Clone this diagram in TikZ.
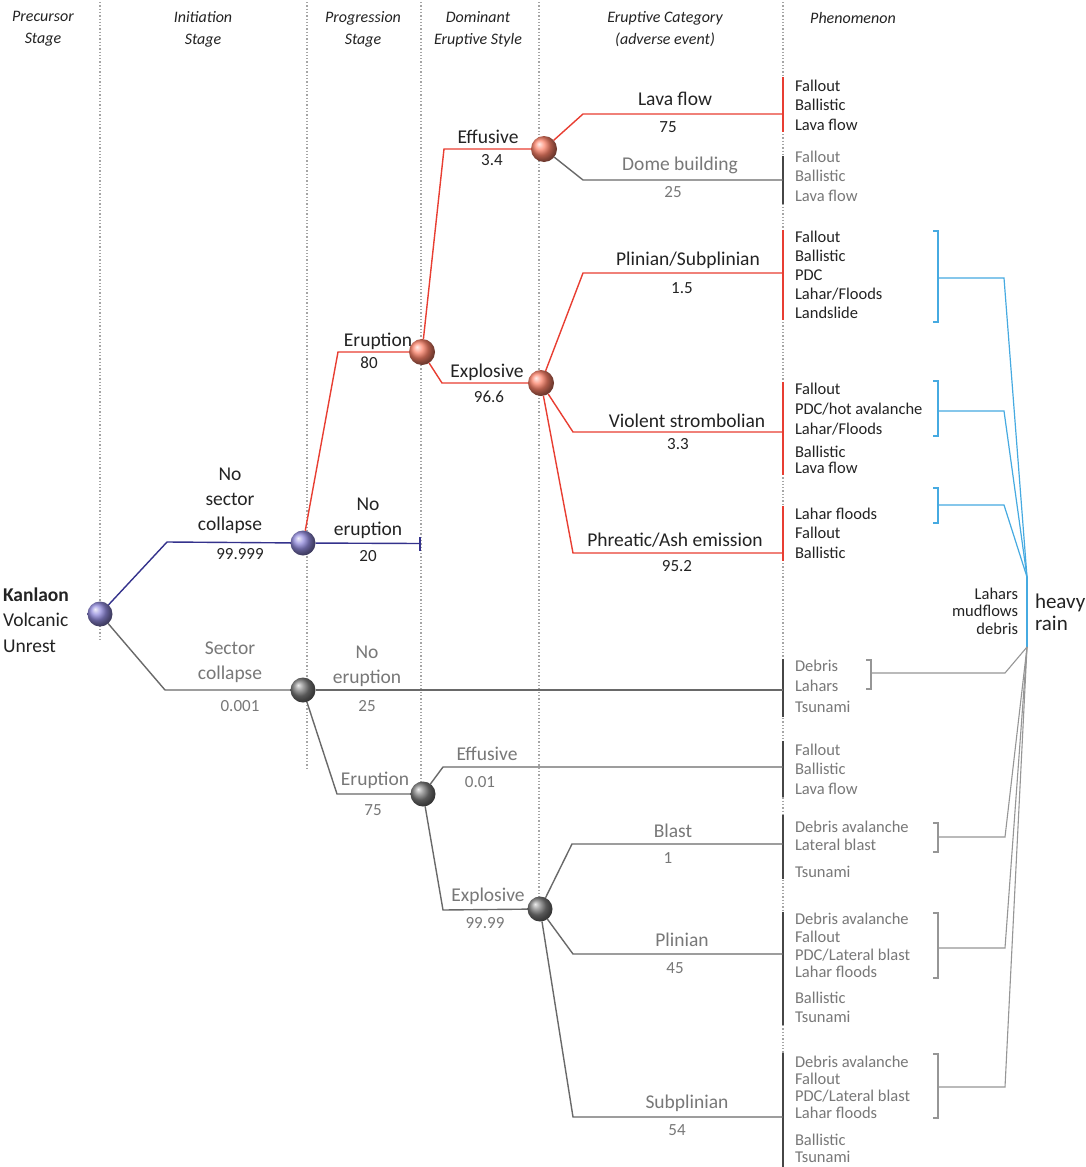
\documentclass[tikz,border=0pt]{standalone}
\usepackage{fontspec}
\setmainfont{Carlito}
\usetikzlibrary{calc}
\definecolor{redline}{RGB}{232,62,50}
\definecolor{purpline}{RGB}{52,50,140}
\definecolor{grayline}{RGB}{105,105,105}
\definecolor{darkbar}{RGB}{70,70,70}
\definecolor{blueline}{RGB}{70,170,225}
\definecolor{txtdark}{RGB}{35,35,35}
\definecolor{txtgray}{RGB}{120,120,120}
\definecolor{gridgray}{RGB}{165,165,165}
\definecolor{brgray}{RGB}{150,150,150}
\definecolor{ballred}{RGB}{252,130,105}
\definecolor{ballpurp}{RGB}{145,138,220}
\definecolor{ballgray}{RGB}{125,125,125}
\tikzset{
  every node/.style={inner sep=0pt, outer sep=0pt},
  lab/.style={font=\fontsize{19.5}{25}\selectfont, text=txtdark, align=center},
  glab/.style={lab, text=txtgray},
  num/.style={font=\fontsize{17}{20}\selectfont, text=txtdark},
  gnum/.style={num, text=txtgray},
  ph/.style={font=\fontsize{16.5}{19.5}\selectfont, anchor=west, align=left, text=txtdark},
  gph/.style={ph, text=txtgray},
  hdr/.style={font=\fontsize{16}{22}\selectfont\itshape, align=center, text=txtdark},
  gridline/.style={draw=gridgray, dotted, line width=1.3pt},
  rline/.style={draw=redline, line width=1.4pt},
  pline/.style={draw=purpline, line width=1.4pt},
  gline/.style={draw=grayline, line width=1.4pt},
  bline/.style={draw=blueline, line width=1.2pt},
  brline/.style={draw=brgray, line width=1.1pt},
  ballR/.style={circle, minimum size=26pt, shading=ball, ball color=ballred},
  ballP/.style={circle, minimum size=25pt, shading=ball, ball color=ballpurp},
  ballG/.style={circle, minimum size=25pt, shading=ball, ball color=ballgray},
  rbar/.style={rectangle, minimum width=2.2pt, fill=redline},
  gbar/.style={rectangle, minimum width=2.2pt, fill=darkbar},
  pbar/.style={rectangle, minimum width=2.2pt, fill=purpline},
}
\begin{document}
\begin{tikzpicture}[x=1pt,y=-1pt]
\useasboundingbox[fill=white] (0,0) rectangle (1086,1167);

% dotted stage separators
\draw[gridline] (100,2) -- (100,642);
\draw[gridline] (307,2) -- (307,770);
\draw[gridline] (421,2) -- (421,785);
\draw[gridline] (539,2) -- (539,900);
\draw[gridline] (783,2) -- (783,1167);

% headers
\node[hdr] (h1) at (43,29) {Precursor\\Stage};
\node[hdr] (h2) at (203,29) {Initiation\\Stage};
\node[hdr] (h3) at (363,29) {Progression\\Stage};
\node[hdr] (h4) at (478,29) {Dominant\\Eruptive Style};
\node[hdr] (h5) at (665,29) {Eruptive Category\\(adverse event)};
\node[hdr] (h6) at (853,18) {Phenomenon};

% phenomenon bars
\node[rbar, minimum height=55pt] (bar1) at (783,104.5) {};
\node[gbar, minimum height=48pt] (bar2) at (783,180) {};
\node[rbar, minimum height=90pt] (bar3) at (783,275) {};
\node[rbar, minimum height=93pt] (bar4) at (783,428.5) {};
\node[rbar, minimum height=55pt] (bar5) at (783,533.5) {};
\node[gbar, minimum height=58pt] (bar6) at (783,688) {};
\node[gbar, minimum height=56pt] (bar7) at (783,769) {};
\node[gbar, minimum height=64pt] (bar8) at (783,847) {};
\node[gbar, minimum height=113pt] (bar9) at (783,968.5) {};
\node[gbar, minimum height=116pt] (bar10) at (783,1111) {};
\node[pbar, minimum height=14pt] (tick) at (420,543.5) {};

% balls
\node[ballP] (kan) at (100,614) {};
\node[ballP] (n1) at (303,543) {};
\node[ballG] (n2) at (303,690) {};
\node[ballR] (er) at (422,352) {};
\node[ballR] (ef) at (544,149) {};
\node[ballR] (ex) at (541,383) {};
\node[ballG] (ger) at (423,794) {};
\node[ballG] (gex) at (540,909) {};

% branches
\draw[pline] (kan) -- (167,542) -- (n1);
\draw[gline] (kan) -- (165,690) -- (n2);
\draw[pline] (n1) -- (tick);
\draw[rline] (n1) -- (338,352) -- (er);
\draw[rline] (er) -- (444,149) -- (ef);
\draw[rline] (er) -- (442,383) -- (ex);
\draw[rline] (ef) -- (583,114) coordinate (c1) -- (c1 -| bar1);
\draw[gline] (ef) -- (583,180) coordinate (c2) -- (c2 -| bar2);
\draw[rline] (ex) -- (583,273) coordinate (c3) -- (c3 -| bar3);
\draw[rline] (ex) -- (573,432) coordinate (c4) -- (c4 -| bar4);
\draw[rline] (ex) -- (573,553) coordinate (c5) -- (c5 -| bar5);
\draw[gline] (n2) -- (n2 -| bar6);
\draw[gline] (n2) -- (337,794) -- (ger);
\draw[gline] (ger) -- (443,767) coordinate (c7) -- (c7 -| bar7);
\draw[gline] (ger) -- (443,910) -- (gex);
\draw[gline] (gex) -- (572,844) coordinate (c8) -- (c8 -| bar8);
\draw[gline] (gex) -- (573,954) coordinate (c9) -- (c9 -| bar9);
\draw[gline] (gex) -- (573,1117) coordinate (c10) -- (c10 -| bar10);

% branch labels
\node[lab, anchor=west, align=left, font=\fontsize{19.5}{25.5}\selectfont] (kanl) at (3,620) {\textbf{Kanlaon}\\Volcanic\\Unrest};
\node[lab] (nsc) at (230,501) {No\\sector\\collapse};
\node[num] (nscp) at (240,554) {99.999};
\node[glab] (sc) at (230,662) {Sector\\collapse};
\node[gnum] (scp) at (240,706) {0.001};
\node[lab] (ne1) at (368,518) {No\\eruption};
\node[num] (ne1p) at (368,556) {20};
\node[glab] (ne2) at (367,666.5) {No\\eruption};
\node[gnum] (ne2p) at (367,706) {25};
\node[lab] (erl) at (378,341) {Eruption};
\node[num] (erp) at (369,363) {80};
\node[lab] (efl) at (488,137) {Effusive};
\node[num] (efp) at (492,160) {3.4};
\node[lab] (exl) at (487,372) {Explosive};
\node[num] (exp) at (489,397) {96.6};
\node[lab] (lfl) at (675,99) {Lava flow};
\node[num] (lfp) at (668,127) {75};
\node[glab] (dbl) at (680,165) {Dome building};
\node[gnum] (dbp) at (673,192) {25};
\node[lab] (psl) at (688,260) {Plinian/Subplinian};
\node[num] (psp) at (682,288) {1.5};
\node[lab] (vsl) at (687,421) {Violent strombolian};
\node[num] (vsp) at (678,444) {3.3};
\node[lab] (pal) at (675,540) {Phreatic/Ash emission};
\node[num] (pap) at (677,566) {95.2};
\node[glab] (gerl) at (375,780) {Eruption};
\node[gnum] (gerp) at (373,810) {75};
\node[glab] (gefl) at (487,754) {Effusive};
\node[gnum] (gefp) at (480,782) {0.01};
\node[glab] (gexl) at (488,896) {Explosive};
\node[gnum] (gexp) at (485,923) {99.99};
\node[glab] (bll) at (673,831) {Blast};
\node[gnum] (blp) at (668,858) {1};
\node[glab] (pll) at (682,940) {Plinian};
\node[gnum] (plp) at (675,968) {45};
\node[glab] (spl) at (687,1103) {Subplinian};
\node[gnum] (spp) at (677,1130) {54};

% phenomena
\node[ph] (p1) at (795,105) {Fallout\\Ballistic\\Lava flow};
\node[gph] (p2) at (795,176) {Fallout\\Ballistic\\Lava flow};
\node[ph, font=\fontsize{16.5}{19}\selectfont] (p3) at (795,275) {Fallout\\Ballistic\\PDC\\Lahar/Floods\\Landslide};
\node[ph, font=\fontsize{16.5}{20}\selectfont] (p4a) at (795,409) {Fallout\\PDC/hot avalanche\\Lahar/Floods};
\node[ph, font=\fontsize{16.5}{16.5}\selectfont] (p4b) at (795,460) {Ballistic\\Lava flow};
\node[ph] (p5) at (795,533) {Lahar floods\\Fallout\\Ballistic};
\node[gph, font=\fontsize{16.5}{20.5}\selectfont] (p6) at (795,686) {Debris\\Lahars\\Tsunami};
\node[gph] (p7) at (795,769) {Fallout\\Ballistic\\Lava flow};
\node[gph, font=\fontsize{16.5}{18}\selectfont] (p8a) at (795,836) {Debris avalanche\\Lateral blast};
\node[gph] (p8b) at (795,872) {Tsunami};
\node[gph, font=\fontsize{16.5}{17.7}\selectfont] (p9a) at (795,945.5) {Debris avalanche\\Fallout\\PDC/Lateral blast\\Lahar floods};
\node[gph, font=\fontsize{16.5}{19}\selectfont] (p9b) at (795,1007.5) {Ballistic\\Tsunami};
\node[gph, font=\fontsize{16.5}{17}\selectfont] (p10a) at (795,1087) {Debris avalanche\\Fallout\\PDC/Lateral blast\\Lahar floods};
\node[gph, font=\fontsize{16.5}{17}\selectfont] (p10b) at (795,1148.5) {Ballistic\\Tsunami};

% heavy rain junction
\node[rectangle, minimum width=2.6pt, minimum height=70pt, fill=blueline] (rain) at (1027,612) {};
\node[font=\fontsize{16.5}{17.5}\selectfont, text=txtdark, align=right, anchor=east] (lmd) at (1018,611) {Lahars\\mudflows\\debris};
\node[font=\fontsize{21}{22}\selectfont, text=txtdark, align=left, anchor=west] (hr) at (1035,612) {heavy\\rain};

% blue brackets
\draw[bline] (933,231) -- (938,231) -- (938,322) -- (933,322);
\draw[bline] (938,278) -- (1004,278) -- (rain.north);
\draw[bline] (933,381) -- (938,381) -- (938,436) -- (933,436);
\draw[bline] (938,411) -- (1004,411) -- (rain.north);
\draw[bline] (933,488) -- (938,488) -- (938,523) -- (933,523);
\draw[bline] (938,505) -- (1004,505) -- (rain.north);

% gray brackets
\draw[brline] (866,660) -- (871,660) -- (871,689) -- (866,689);
\draw[brline] (871,673) -- (1005,673) -- (rain.south);
\draw[brline] (933,823) -- (938,823) -- (938,852) -- (933,852);
\draw[brline] (938,837) -- (1005,837) -- (rain.south);
\draw[brline] (933,913) -- (938,913) -- (938,978) -- (933,978);
\draw[brline] (938,948) -- (1005,948) -- (rain.south);
\draw[brline] (933,1054) -- (938,1054) -- (938,1118) -- (933,1118);
\draw[brline] (938,1087) -- (1005,1087) -- (rain.south);
\end{tikzpicture}
\end{document}
